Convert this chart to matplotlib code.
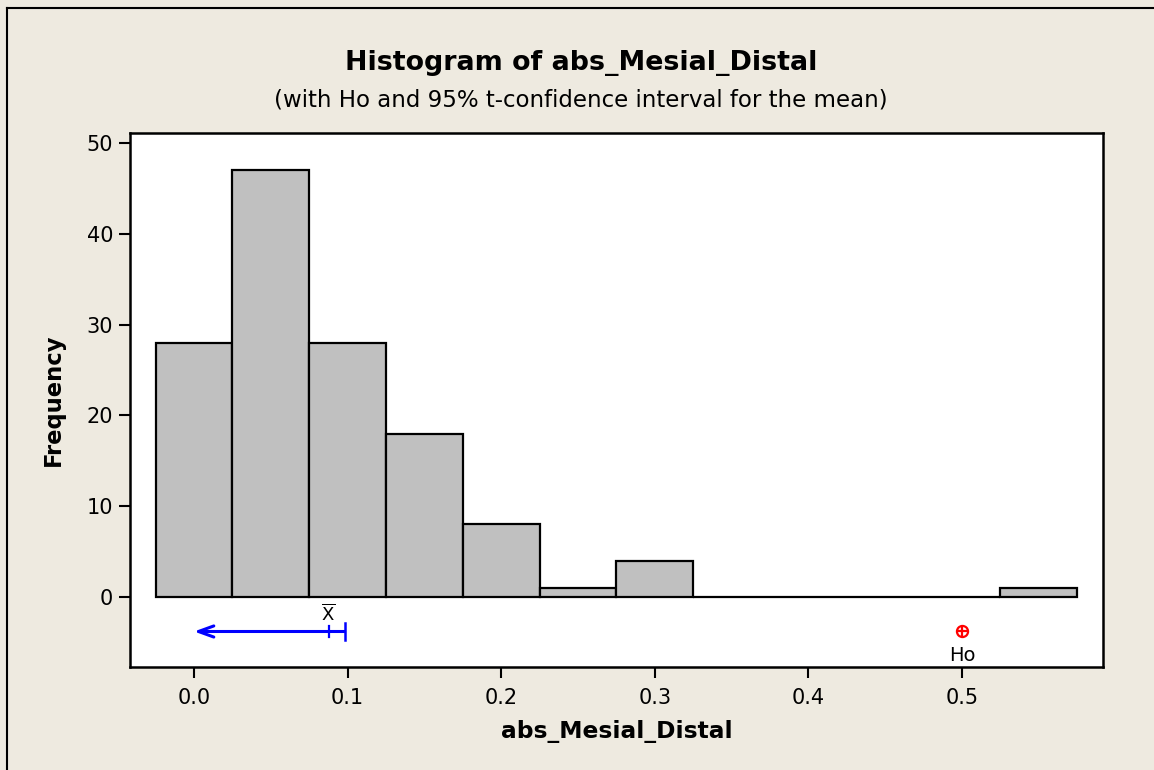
import matplotlib
matplotlib.use("Agg")
import matplotlib.pyplot as plt
from matplotlib.lines import Line2D

plt.rcParams["font.family"] = ["DejaVu Sans"]

# Histogram bins (centres) and their counts
bin_centers = [0.00, 0.05, 0.10, 0.15, 0.20, 0.25, 0.30, 0.35, 0.40, 0.45, 0.50, 0.55]
counts = [28, 47, 28, 18, 8, 1, 4, 0, 0, 0, 0, 1]
bin_width = 0.05

# Sample mean, upper 95% t-bound, hypothesised mean
xbar = 0.088
upper_bound = 0.098
h0 = 0.5
ci_level = -3.8

x_ticks = [0.0, 0.1, 0.2, 0.3, 0.4, 0.5]
y_ticks = [0, 10, 20, 30, 40, 50]

bg = "#EEEAE0"
fig = plt.figure(figsize=(11.54, 7.70), dpi=100, facecolor=bg)
ax = fig.add_axes([130 / 1154, 1 - 667 / 770, (1103 - 130) / 1154, (667 - 133) / 770])
ax.set_facecolor("white")

ax.bar(bin_centers, counts, width=bin_width, color="#C0C0C0",
       edgecolor="black", linewidth=1.6, zorder=2)

# one-sided confidence interval: arrow to the left from the upper bound
ax.annotate("", xy=(0.0, ci_level), xytext=(upper_bound, ci_level),
            arrowprops=dict(arrowstyle="->,head_length=1.1,head_width=0.4",
                            color="blue", lw=2.2, shrinkA=0, shrinkB=0))
ax.plot([upper_bound, upper_bound], [ci_level - 0.95, ci_level + 0.95],
        color="blue", lw=1.8)
ax.plot([xbar, xbar], [ci_level - 0.6, ci_level + 0.6], color="blue", lw=1.6)
ax.text(xbar - 0.001, ci_level + 0.75, r"$\overline{\mathrm{X}}$", ha="center",
        va="bottom", fontsize=13)

# hypothesised mean marker
ax.plot([h0], [ci_level], marker="o", ms=8, mfc="none", mec="red", mew=1.6)
ax.plot([h0], [ci_level], marker="+", ms=8, color="red", mew=1.6)
ax.text(h0, ci_level - 1.6, "Ho", ha="center", va="top", fontsize=14)

ax.set_xlim(-0.0417, 0.5918)
ax.set_ylim(-7.71, 51.1)
ax.set_xticks(x_ticks)
ax.set_xticklabels([f"{t:.1f}" for t in x_ticks])
ax.set_yticks(y_ticks)
ax.tick_params(direction="out", length=8, width=1.5, labelsize=15)
ax.tick_params(axis="x", pad=7)
ax.tick_params(axis="y", pad=4)
for s in ax.spines.values():
    s.set_linewidth(1.8)

ax.set_xlabel("abs_Mesial_Distal", fontsize=16.8, fontweight="bold", labelpad=9)
ax.set_ylabel("Frequency", fontsize=16.3, fontweight="bold", labelpad=16)

fig.text(581 / 1154, 1 - 63 / 770, "Histogram of abs_Mesial_Distal",
         ha="center", va="center", fontsize=19.4, fontweight="bold")
fig.text(581 / 1154, 1 - 100 / 770,
         "(with Ho and 95% t-confidence interval for the mean)",
         ha="center", va="center", fontsize=16.5)

# outer frame lines at left and top
fig.add_artist(Line2D([7 / 1154, 7 / 1154], [0, 1 - 8 / 770], color="black",
                      lw=1.5, transform=fig.transFigure))
fig.add_artist(Line2D([7 / 1154, 1], [1 - 8 / 770, 1 - 8 / 770], color="black",
                      lw=1.5, transform=fig.transFigure))

fig.savefig("out.png", dpi=100, facecolor=bg)
